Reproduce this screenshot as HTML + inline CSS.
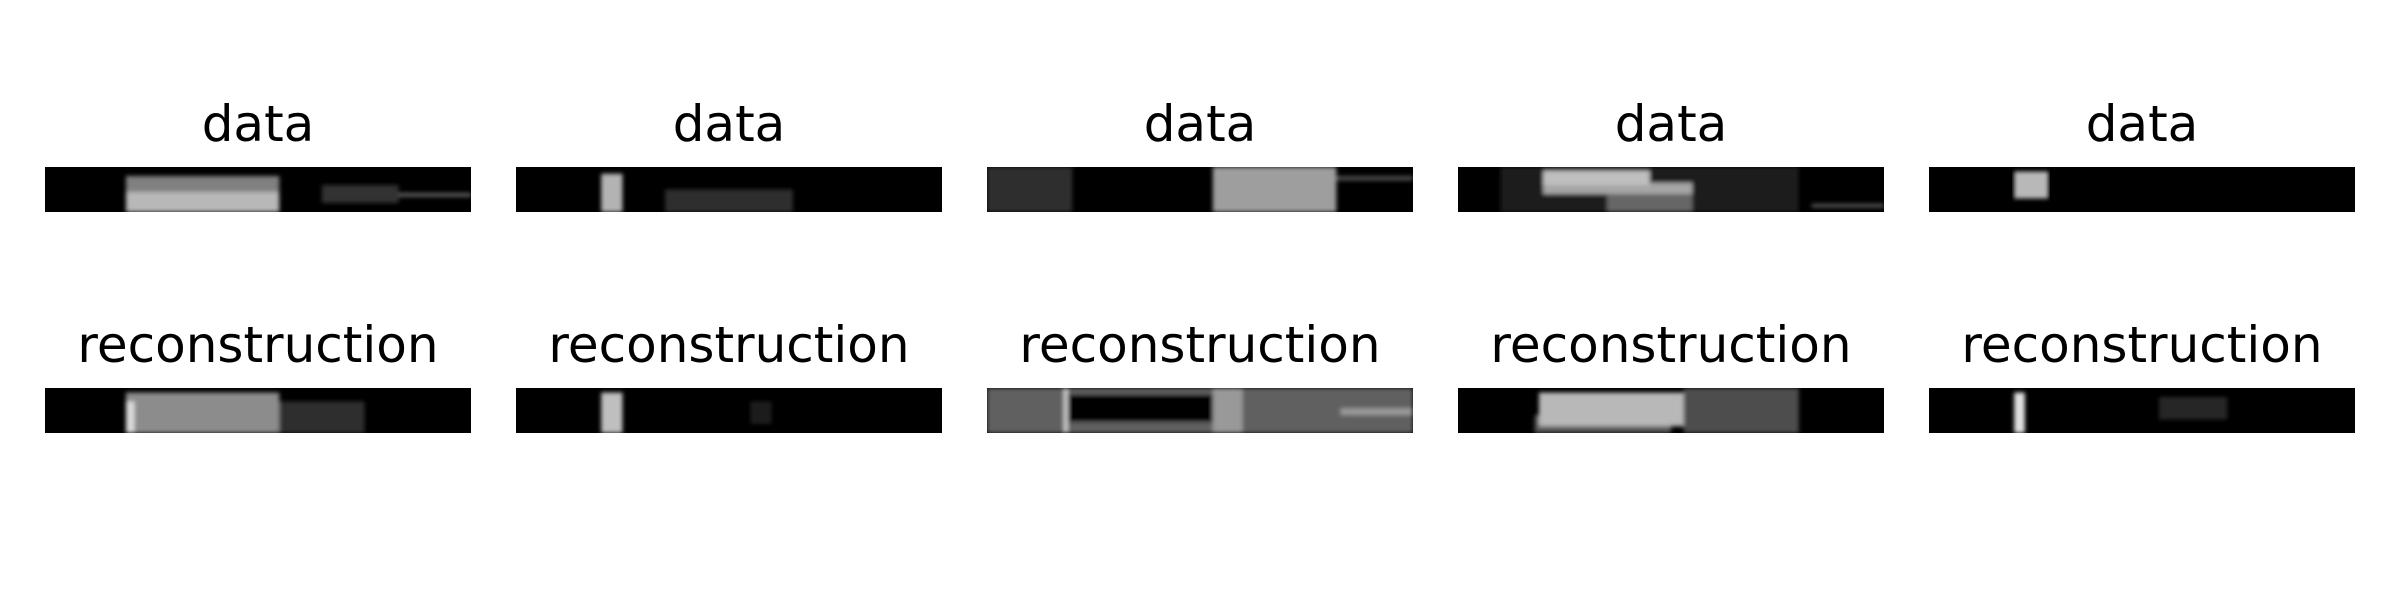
<!DOCTYPE html>
<html><head><meta charset="utf-8">
<style>
html,body{margin:0;padding:0;background:#fff;}
svg{display:block;}
text{font-family:"DejaVu Sans","Liberation Sans",sans-serif;font-size:50px;fill:#000;}
</style></head>
<body>
<svg id="fig" width="2400" height="600" viewBox="0 0 2400 600" xmlns="http://www.w3.org/2000/svg">
<defs>
<filter id="soft" x="-5%" y="-20%" width="110%" height="140%"><feGaussianBlur stdDeviation="2"/></filter>
<clipPath id="pc"><rect x="0" y="0" width="426" height="45"/></clipPath>
</defs>
</svg>
<script>
const panelTitles = ["data", "reconstruction"];
// blobs per panel: [x0,x1,y0,y1,gray] in fractional panel coords (drawn in order)
const dataBlobs = [
  [[0.19,0.55,0.2,0.55,0.5],[0.19,0.55,0.55,1,0.72],[0.65,0.83,0.4,0.8,0.2],[0.83,1,0.58,0.66,0.4]],
  [[0.35,0.65,0.5,1,0.18],[0.2,0.25,0.15,1,0.7]],
  [[0,0.2,0,1,0.18],[0.53,0.82,0,1,0.62],[0.82,1,0.2,0.3,0.3]],
  [[0.1,0.8,0,1,0.1],[0.35,0.55,0.6,1,0.4],[0.2,0.55,0.35,0.6,0.65],[0.2,0.45,0.08,0.4,0.75],[0.83,1,0.82,0.9,0.35]],
  [[0.2,0.28,0.1,0.7,0.72]]
];
const reconBlobs = [
  [[0.55,0.75,0.3,1,0.18],[0.19,0.55,0.1,1,0.55],[0.19,0.21,0.3,1,0.85]],
  [[0.55,0.6,0.3,0.8,0.1],[0.2,0.25,0.1,1,0.75]],
  [[0,1,0,1,0.38],[0.19,0.53,0.15,0.75,-1],[0.53,0.6,0,1,0.6],[0.18,0.19,0,1,0.8],[0.83,1,0.45,0.6,0.6]],
  [[0.53,0.8,0,1,0.3],[0.18,0.5,0.6,1,0.35],[0.19,0.53,0.1,0.85,0.72]],
  [[0.54,0.7,0.2,0.7,0.15],[0.2,0.225,0.1,1,0.88]]
];
const panelX = 45, panelW = 426, panelGap = 45, panelH = 45;
const rowTop = [167, 388], titleBase = [141, 362];
const NS = "http://www.w3.org/2000/svg";
const svg = document.getElementById("fig");
function mk(tag, attrs){const e=document.createElementNS(NS,tag);for(const k in attrs)e.setAttribute(k,attrs[k]);return e;}
[dataBlobs, reconBlobs].forEach((rowBlobs, r) => {
  rowBlobs.forEach((blobs, i) => {
    const x = panelX + i*(panelW+panelGap), y = rowTop[r];
    const g = mk("g", {transform:`translate(${x},${y})`});
    
    
    const t = mk("text", {x: panelW/2, y: titleBase[r]-y, "text-anchor":"middle"});
    
    
    t.textContent = panelTitles[r];
    g.appendChild(t);
    const bg = mk("rect", {x:0,y:0,width:panelW,height:panelH,fill:"#000"});
    
    
    g.appendChild(bg);
    const inner = mk("g", {"clip-path":"url(#pc)"});
    const blur = mk("g", {filter:"url(#soft)"});
    blobs.forEach(b => {
      const v = b[4] < 0 ? 0 : Math.round(b[4]*255);
      const rc = mk("rect", {x:b[0]*panelW, y:b[2]*panelH, width:(b[1]-b[0])*panelW, height:(b[3]-b[2])*panelH, fill:`rgb(${v},${v},${v})`});
      
      
      blur.appendChild(rc);
    });
    inner.appendChild(blur);
    g.appendChild(inner);
    svg.appendChild(g);
  });
});
</script>
</body></html>
